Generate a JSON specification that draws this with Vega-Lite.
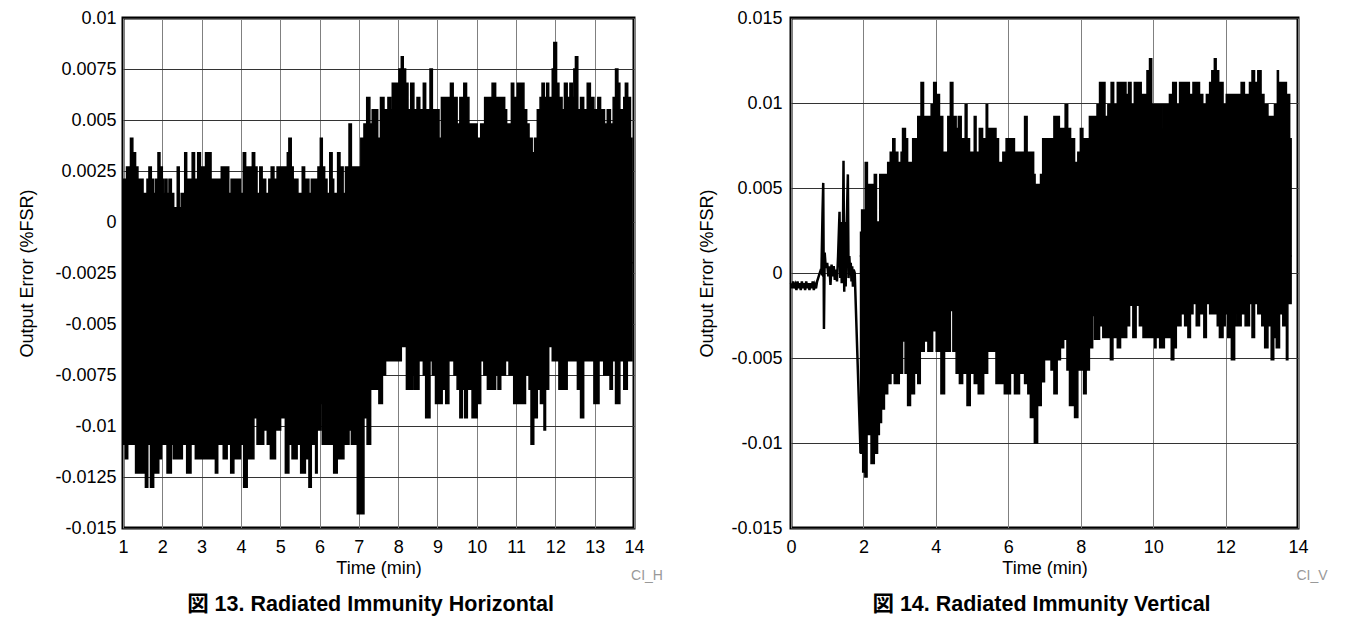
{
  "$schema": "https://vega.github.io/schema/vega-lite/v6.json",
  "background": "white",
  "padding": {"left": 17, "top": 7, "right": 0, "bottom": 0},
  "spacing": 32,
  "config": {
    "view": {"stroke": "black", "strokeWidth": 3},
    "font": "Liberation Sans",
    "axis": {"labelFont": "Liberation Sans", "labelFontSize": 18, "labelColor": "black", "titleFont": "Liberation Sans", "titleFontSize": 18, "titleFontWeight": "normal", "titleColor": "black", "ticks": false, "domain": false, "grid": true, "labelOverlap": false, "labelFlush": false},
    "axisX": {"gridColor": "#808080", "gridOpacity": 1, "gridWidth": 1},
    "axisY": {"gridColor": "#333333", "gridOpacity": 1, "gridWidth": 1}
  },
  "datasets": {
    "hUpper": [
      {"t":1.00,"v":0.0021},{"t":1.09,"v":0.0027},{"t":1.19,"v":0.0041},{"t":1.25,"v":0.0034},{"t":1.32,"v":0.0027},{"t":1.38,"v":0.0021},{"t":1.51,"v":0.0014},{"t":1.61,"v":0.0021},{"t":1.66,"v":0.0027},{"t":1.72,"v":0.0021},{"t":1.78,"v":0.0014},{"t":1.83,"v":0.0021},{"t":1.89,"v":0.0034},{"t":1.94,"v":0.0027},{"t":2.00,"v":0.0021},{"t":2.04,"v":0.0014},{"t":2.08,"v":0.0021},{"t":2.12,"v":0.0014},{"t":2.17,"v":0.0021},{"t":2.23,"v":0.0014},{"t":2.29,"v":0.0007},{"t":2.38,"v":0.0027},{"t":2.43,"v":0.0007},{"t":2.48,"v":0.0014},{"t":2.57,"v":0.0034},{"t":2.62,"v":0.0021},{"t":2.76,"v":0.0034},{"t":2.82,"v":0.0021},{"t":2.90,"v":0.0034},{"t":2.97,"v":0.0027},{"t":3.10,"v":0.0034},{"t":3.24,"v":0.0021},{"t":3.50,"v":0.0027},{"t":3.69,"v":0.0014},{"t":3.75,"v":0.0021},{"t":3.99,"v":0.0014},{"t":4.06,"v":0.0034},{"t":4.12,"v":0.0027},{"t":4.29,"v":0.0034},{"t":4.35,"v":0.0027},{"t":4.41,"v":0.0014},{"t":4.48,"v":0.0027},{"t":4.54,"v":0.0021},{"t":4.63,"v":0.0014},{"t":4.71,"v":0.0021},{"t":4.77,"v":0.0027},{"t":4.84,"v":0.0021},{"t":4.92,"v":0.0027},{"t":5.18,"v":0.0034},{"t":5.22,"v":0.0041},{"t":5.28,"v":0.0027},{"t":5.33,"v":0.0021},{"t":5.45,"v":0.0014},{"t":5.56,"v":0.0027},{"t":5.62,"v":0.0021},{"t":5.73,"v":0.0014},{"t":5.79,"v":0.0021},{"t":5.96,"v":0.0027},{"t":6.02,"v":0.0041},{"t":6.07,"v":0.0027},{"t":6.13,"v":0.0021},{"t":6.19,"v":0.0014},{"t":6.26,"v":0.0034},{"t":6.32,"v":0.0021},{"t":6.36,"v":0.0014},{"t":6.46,"v":0.0034},{"t":6.52,"v":0.0027},{"t":6.60,"v":0.0014},{"t":6.66,"v":0.0027},{"t":6.75,"v":0.0048},{"t":6.81,"v":0.0027},{"t":7.05,"v":0.0041},{"t":7.13,"v":0.0048},{"t":7.20,"v":0.0061},{"t":7.28,"v":0.0048},{"t":7.34,"v":0.0055},{"t":7.48,"v":0.0041},{"t":7.55,"v":0.0061},{"t":7.64,"v":0.0055},{"t":7.74,"v":0.0061},{"t":7.81,"v":0.0055},{"t":7.85,"v":0.0068},{"t":8.02,"v":0.0075},{"t":8.08,"v":0.0081},{"t":8.13,"v":0.0075},{"t":8.19,"v":0.0068},{"t":8.25,"v":0.0055},{"t":8.32,"v":0.0068},{"t":8.40,"v":0.0055},{"t":8.48,"v":0.0061},{"t":8.55,"v":0.0055},{"t":8.64,"v":0.0068},{"t":8.70,"v":0.0055},{"t":8.81,"v":0.0075},{"t":8.87,"v":0.0055},{"t":9.04,"v":0.0041},{"t":9.10,"v":0.0061},{"t":9.33,"v":0.0068},{"t":9.40,"v":0.0061},{"t":9.50,"v":0.0048},{"t":9.57,"v":0.0061},{"t":9.67,"v":0.0068},{"t":9.74,"v":0.0061},{"t":9.80,"v":0.0048},{"t":10.01,"v":0.0041},{"t":10.10,"v":0.0048},{"t":10.20,"v":0.0061},{"t":10.39,"v":0.0068},{"t":10.48,"v":0.0061},{"t":10.71,"v":0.0055},{"t":10.76,"v":0.0048},{"t":10.88,"v":0.0068},{"t":10.94,"v":0.0061},{"t":11.03,"v":0.0068},{"t":11.20,"v":0.0055},{"t":11.27,"v":0.0048},{"t":11.33,"v":0.0041},{"t":11.41,"v":0.0034},{"t":11.47,"v":0.0041},{"t":11.54,"v":0.0055},{"t":11.61,"v":0.0061},{"t":11.66,"v":0.0068},{"t":11.72,"v":0.0061},{"t":11.78,"v":0.0068},{"t":11.83,"v":0.0061},{"t":11.92,"v":0.0075},{"t":11.96,"v":0.0088},{"t":12.03,"v":0.0068},{"t":12.09,"v":0.0061},{"t":12.17,"v":0.0055},{"t":12.23,"v":0.0068},{"t":12.30,"v":0.0061},{"t":12.37,"v":0.0068},{"t":12.43,"v":0.0061},{"t":12.47,"v":0.0075},{"t":12.51,"v":0.0081},{"t":12.57,"v":0.0055},{"t":12.64,"v":0.0061},{"t":12.72,"v":0.0055},{"t":12.81,"v":0.0068},{"t":12.89,"v":0.0061},{"t":12.98,"v":0.0055},{"t":13.08,"v":0.0061},{"t":13.15,"v":0.0055},{"t":13.25,"v":0.0048},{"t":13.32,"v":0.0055},{"t":13.40,"v":0.0048},{"t":13.47,"v":0.0061},{"t":13.53,"v":0.0075},{"t":13.59,"v":0.0068},{"t":13.64,"v":0.0055},{"t":13.74,"v":0.0061},{"t":13.78,"v":0.0068},{"t":13.84,"v":0.0061},{"t":13.91,"v":0.0041},{"t":13.95,"v":0.0041}
    ],
    "hLower": [
      {"t":1.00,"v":-0.0109},{"t":1.06,"v":-0.0116},{"t":1.12,"v":-0.0109},{"t":1.32,"v":-0.0123},{"t":1.57,"v":-0.013},{"t":1.63,"v":-0.0109},{"t":1.70,"v":-0.013},{"t":1.78,"v":-0.0123},{"t":1.91,"v":-0.0116},{"t":1.98,"v":-0.0109},{"t":2.12,"v":-0.0123},{"t":2.23,"v":-0.0109},{"t":2.28,"v":-0.0116},{"t":2.51,"v":-0.0109},{"t":2.62,"v":-0.0123},{"t":2.73,"v":-0.0109},{"t":2.84,"v":-0.0116},{"t":3.35,"v":-0.0123},{"t":3.41,"v":-0.0109},{"t":3.55,"v":-0.0116},{"t":3.65,"v":-0.0109},{"t":3.74,"v":-0.0123},{"t":3.82,"v":-0.0116},{"t":3.99,"v":-0.0109},{"t":4.07,"v":-0.013},{"t":4.16,"v":-0.0116},{"t":4.33,"v":-0.0096},{"t":4.41,"v":-0.0109},{"t":4.58,"v":-0.0102},{"t":4.67,"v":-0.0109},{"t":4.75,"v":-0.0116},{"t":4.88,"v":-0.0102},{"t":5.01,"v":-0.0096},{"t":5.13,"v":-0.0123},{"t":5.22,"v":-0.0109},{"t":5.30,"v":-0.0116},{"t":5.43,"v":-0.0109},{"t":5.52,"v":-0.0123},{"t":5.64,"v":-0.0116},{"t":5.73,"v":-0.013},{"t":5.79,"v":-0.0109},{"t":5.90,"v":-0.0123},{"t":5.94,"v":-0.0102},{"t":6.03,"v":-0.0089},{"t":6.07,"v":-0.0109},{"t":6.36,"v":-0.0123},{"t":6.45,"v":-0.0116},{"t":6.62,"v":-0.0109},{"t":6.75,"v":-0.0102},{"t":6.81,"v":-0.0109},{"t":6.96,"v":-0.0143},{"t":7.13,"v":-0.0096},{"t":7.21,"v":-0.0109},{"t":7.30,"v":-0.0082},{"t":7.51,"v":-0.0089},{"t":7.60,"v":-0.0075},{"t":7.68,"v":-0.0068},{"t":8.08,"v":-0.0061},{"t":8.21,"v":-0.0082},{"t":8.36,"v":-0.0075},{"t":8.40,"v":-0.0082},{"t":8.53,"v":-0.0068},{"t":8.64,"v":-0.0075},{"t":8.70,"v":-0.0096},{"t":8.81,"v":-0.0068},{"t":8.87,"v":-0.0075},{"t":8.95,"v":-0.0089},{"t":9.12,"v":-0.0082},{"t":9.21,"v":-0.0089},{"t":9.29,"v":-0.0068},{"t":9.42,"v":-0.0075},{"t":9.50,"v":-0.0082},{"t":9.57,"v":-0.0096},{"t":9.63,"v":-0.0082},{"t":9.69,"v":-0.0096},{"t":9.76,"v":-0.0082},{"t":9.88,"v":-0.0096},{"t":10.01,"v":-0.0089},{"t":10.10,"v":-0.0068},{"t":10.18,"v":-0.0075},{"t":10.27,"v":-0.0082},{"t":10.48,"v":-0.0075},{"t":10.54,"v":-0.0082},{"t":10.61,"v":-0.0075},{"t":10.73,"v":-0.0068},{"t":10.82,"v":-0.0075},{"t":10.94,"v":-0.0089},{"t":11.24,"v":-0.0075},{"t":11.33,"v":-0.0082},{"t":11.38,"v":-0.0109},{"t":11.45,"v":-0.0096},{"t":11.54,"v":-0.0082},{"t":11.62,"v":-0.0089},{"t":11.71,"v":-0.0102},{"t":11.75,"v":-0.0082},{"t":11.83,"v":-0.0061},{"t":11.92,"v":-0.0068},{"t":12.09,"v":-0.0082},{"t":12.30,"v":-0.0068},{"t":12.56,"v":-0.0082},{"t":12.64,"v":-0.0096},{"t":12.72,"v":-0.0068},{"t":12.98,"v":-0.0089},{"t":13.11,"v":-0.0068},{"t":13.23,"v":-0.0075},{"t":13.39,"v":-0.0082},{"t":13.45,"v":-0.0068},{"t":13.53,"v":-0.0089},{"t":13.64,"v":-0.0068},{"t":13.74,"v":-0.0082},{"t":13.83,"v":-0.0068},{"t":13.95,"v":-0.0068}
    ],
    "vEarly": [
      {"t":0.00,"v":-0.0006},{"t":0.03,"v":-0.0009},{"t":0.06,"v":-0.0005},{"t":0.09,"v":-0.0009},{"t":0.12,"v":-0.0007},{"t":0.15,"v":-0.001},{"t":0.18,"v":-0.0005},{"t":0.21,"v":-0.0009},{"t":0.24,"v":-0.0006},{"t":0.27,"v":-0.001},{"t":0.30,"v":-0.0005},{"t":0.33,"v":-0.0009},{"t":0.36,"v":-0.0006},{"t":0.39,"v":-0.001},{"t":0.42,"v":-0.0005},{"t":0.45,"v":-0.0009},{"t":0.48,"v":-0.0006},{"t":0.51,"v":-0.001},{"t":0.54,"v":-0.0006},{"t":0.57,"v":-0.0009},{"t":0.60,"v":-0.0005},{"t":0.63,"v":-0.001},{"t":0.66,"v":-0.0007},{"t":0.69,"v":-0.0009},{"t":0.72,"v":-0.0005},{"t":0.75,"v":-0.0003},{"t":0.78,"v":-0.0001},{"t":0.81,"v":0.0001},{"t":0.84,"v":0.0},{"t":0.87,"v":0.0035},{"t":0.89,"v":0.0053},{"t":0.90,"v":0.001},{"t":0.91,"v":-0.0033},{"t":0.93,"v":0.0012},{"t":0.96,"v":0.0003},{"t":1.00,"v":0.0006},{"t":1.03,"v":-0.0002},{"t":1.06,"v":0.0004},{"t":1.09,"v":-0.0007},{"t":1.12,"v":0.0005},{"t":1.15,"v":-0.0002},{"t":1.18,"v":0.0004},{"t":1.21,"v":-0.0004},{"t":1.24,"v":0.0002},{"t":1.27,"v":-0.0005},{"t":1.30,"v":0.001},{"t":1.34,"v":0.0036},{"t":1.36,"v":-0.0003},{"t":1.38,"v":0.003},{"t":1.40,"v":-0.0006},{"t":1.43,"v":0.001},{"t":1.45,"v":0.0066},{"t":1.47,"v":-0.0011},{"t":1.49,"v":0.003},{"t":1.51,"v":-0.0008},{"t":1.54,"v":0.003},{"t":1.57,"v":0.0058},{"t":1.59,"v":-0.0003},{"t":1.61,"v":0.001},{"t":1.63,"v":0.0002},{"t":1.65,"v":0.0006},{"t":1.67,"v":-0.0005},{"t":1.69,"v":0.0004},{"t":1.71,"v":-0.0008},{"t":1.73,"v":0.0002},{"t":1.76,"v":0.0},{"t":1.92,"v":-0.0106}
    ],
    "vUpper": [
      {"t":1.92,"v":0.0024},{"t":1.95,"v":0.0037},{"t":2.05,"v":0.0065},{"t":2.11,"v":0.0052},{"t":2.30,"v":0.0058},{"t":2.36,"v":0.003},{"t":2.45,"v":0.0058},{"t":2.67,"v":0.0065},{"t":2.74,"v":0.0071},{"t":2.81,"v":0.0079},{"t":2.87,"v":0.0071},{"t":2.95,"v":0.0065},{"t":3.04,"v":0.0071},{"t":3.08,"v":0.0085},{"t":3.16,"v":0.0079},{"t":3.22,"v":0.0065},{"t":3.36,"v":0.0079},{"t":3.50,"v":0.0092},{"t":3.59,"v":0.0112},{"t":3.66,"v":0.0092},{"t":3.87,"v":0.0099},{"t":3.94,"v":0.0112},{"t":4.01,"v":0.0105},{"t":4.10,"v":0.0092},{"t":4.19,"v":0.0071},{"t":4.33,"v":0.0092},{"t":4.40,"v":0.0112},{"t":4.47,"v":0.0092},{"t":4.56,"v":0.0085},{"t":4.62,"v":0.0092},{"t":4.70,"v":0.0079},{"t":4.81,"v":0.0099},{"t":4.86,"v":0.0079},{"t":4.93,"v":0.0071},{"t":5.06,"v":0.0092},{"t":5.11,"v":0.0071},{"t":5.20,"v":0.0085},{"t":5.29,"v":0.0079},{"t":5.39,"v":0.0099},{"t":5.43,"v":0.0085},{"t":5.66,"v":0.0079},{"t":5.73,"v":0.0065},{"t":5.85,"v":0.0071},{"t":5.94,"v":0.0079},{"t":6.17,"v":0.0071},{"t":6.45,"v":0.0092},{"t":6.52,"v":0.0071},{"t":6.70,"v":0.0058},{"t":6.74,"v":0.0052},{"t":6.89,"v":0.0058},{"t":6.95,"v":0.0079},{"t":7.26,"v":0.0092},{"t":7.41,"v":0.0085},{"t":7.57,"v":0.0099},{"t":7.64,"v":0.0085},{"t":7.72,"v":0.0079},{"t":7.83,"v":0.0065},{"t":7.92,"v":0.0071},{"t":7.99,"v":0.0085},{"t":8.06,"v":0.0079},{"t":8.24,"v":0.0092},{"t":8.45,"v":0.0099},{"t":8.52,"v":0.0112},{"t":8.67,"v":0.0092},{"t":8.75,"v":0.0099},{"t":8.84,"v":0.0112},{"t":8.91,"v":0.0099},{"t":9.01,"v":0.0112},{"t":9.25,"v":0.0105},{"t":9.32,"v":0.0112},{"t":9.39,"v":0.0099},{"t":9.48,"v":0.0112},{"t":9.67,"v":0.0105},{"t":9.83,"v":0.0119},{"t":9.90,"v":0.0126},{"t":9.96,"v":0.0099},{"t":10.27,"v":0.0085},{"t":10.31,"v":0.0099},{"t":10.45,"v":0.0105},{"t":10.54,"v":0.0112},{"t":10.64,"v":0.0099},{"t":10.73,"v":0.0112},{"t":11.00,"v":0.0105},{"t":11.10,"v":0.0112},{"t":11.28,"v":0.0105},{"t":11.37,"v":0.0099},{"t":11.47,"v":0.0105},{"t":11.56,"v":0.0112},{"t":11.62,"v":0.0119},{"t":11.69,"v":0.0126},{"t":11.74,"v":0.0119},{"t":11.81,"v":0.0112},{"t":11.93,"v":0.0099},{"t":12.02,"v":0.0105},{"t":12.43,"v":0.0112},{"t":12.52,"v":0.0105},{"t":12.66,"v":0.0112},{"t":12.73,"v":0.0119},{"t":12.80,"v":0.0112},{"t":12.89,"v":0.0119},{"t":12.98,"v":0.0105},{"t":13.06,"v":0.0099},{"t":13.17,"v":0.0092},{"t":13.35,"v":0.0099},{"t":13.43,"v":0.0119},{"t":13.46,"v":0.0112},{"t":13.68,"v":0.0105},{"t":13.77,"v":0.0079},{"t":13.81,"v":0.0079}
    ],
    "vLower": [
      {"t":1.92,"v":-0.0106},{"t":1.98,"v":-0.0117},{"t":2.04,"v":-0.012},{"t":2.10,"v":-0.0095},{"t":2.21,"v":-0.0112},{"t":2.30,"v":-0.0106},{"t":2.39,"v":-0.0095},{"t":2.44,"v":-0.0088},{"t":2.50,"v":-0.008},{"t":2.58,"v":-0.0071},{"t":2.67,"v":-0.0065},{"t":2.76,"v":-0.0059},{"t":2.85,"v":-0.0065},{"t":2.99,"v":-0.0059},{"t":3.08,"v":-0.004},{"t":3.15,"v":-0.0059},{"t":3.22,"v":-0.0078},{"t":3.30,"v":-0.0071},{"t":3.41,"v":-0.0059},{"t":3.50,"v":-0.0065},{"t":3.57,"v":-0.0046},{"t":3.68,"v":-0.004},{"t":3.78,"v":-0.0046},{"t":3.91,"v":-0.0034},{"t":4.01,"v":-0.0046},{"t":4.14,"v":-0.0071},{"t":4.24,"v":-0.0046},{"t":4.40,"v":-0.0022},{"t":4.47,"v":-0.0046},{"t":4.56,"v":-0.0059},{"t":4.65,"v":-0.0065},{"t":4.74,"v":-0.0059},{"t":4.86,"v":-0.0078},{"t":4.95,"v":-0.0059},{"t":5.06,"v":-0.0065},{"t":5.17,"v":-0.0071},{"t":5.32,"v":-0.0059},{"t":5.43,"v":-0.0046},{"t":5.66,"v":-0.0065},{"t":5.89,"v":-0.0071},{"t":6.06,"v":-0.0059},{"t":6.17,"v":-0.0071},{"t":6.31,"v":-0.0059},{"t":6.45,"v":-0.0065},{"t":6.54,"v":-0.0071},{"t":6.61,"v":-0.0085},{"t":6.72,"v":-0.01},{"t":6.81,"v":-0.0078},{"t":6.91,"v":-0.0064},{"t":7.00,"v":-0.0051},{"t":7.18,"v":-0.0057},{"t":7.26,"v":-0.0071},{"t":7.35,"v":-0.0051},{"t":7.44,"v":-0.0044},{"t":7.53,"v":-0.0039},{"t":7.62,"v":-0.0057},{"t":7.69,"v":-0.0078},{"t":7.83,"v":-0.0085},{"t":7.92,"v":-0.0057},{"t":8.08,"v":-0.0071},{"t":8.15,"v":-0.0057},{"t":8.24,"v":-0.0044},{"t":8.33,"v":-0.0025},{"t":8.38,"v":-0.0039},{"t":8.52,"v":-0.0031},{"t":8.61,"v":-0.0038},{"t":8.82,"v":-0.0051},{"t":8.89,"v":-0.0038},{"t":9.01,"v":-0.0044},{"t":9.10,"v":-0.0038},{"t":9.27,"v":-0.0031},{"t":9.35,"v":-0.0019},{"t":9.44,"v":-0.0038},{"t":9.53,"v":-0.0019},{"t":9.62,"v":-0.0031},{"t":9.72,"v":-0.0038},{"t":10.04,"v":-0.0044},{"t":10.08,"v":-0.0038},{"t":10.18,"v":-0.0044},{"t":10.31,"v":-0.0038},{"t":10.50,"v":-0.0051},{"t":10.57,"v":-0.0044},{"t":10.64,"v":-0.0031},{"t":10.77,"v":-0.0024},{"t":10.87,"v":-0.0031},{"t":10.96,"v":-0.0038},{"t":11.03,"v":-0.0024},{"t":11.10,"v":-0.0018},{"t":11.19,"v":-0.0031},{"t":11.28,"v":-0.0024},{"t":11.40,"v":-0.0038},{"t":11.47,"v":-0.0018},{"t":11.56,"v":-0.0024},{"t":11.77,"v":-0.0031},{"t":11.83,"v":-0.0038},{"t":11.93,"v":-0.0031},{"t":11.99,"v":-0.0024},{"t":12.06,"v":-0.0038},{"t":12.16,"v":-0.0051},{"t":12.25,"v":-0.0024},{"t":12.29,"v":-0.0031},{"t":12.43,"v":-0.0024},{"t":12.54,"v":-0.0031},{"t":12.66,"v":-0.0018},{"t":12.73,"v":-0.0038},{"t":12.80,"v":-0.0018},{"t":12.89,"v":-0.0024},{"t":13.00,"v":-0.0031},{"t":13.08,"v":-0.0044},{"t":13.17,"v":-0.0031},{"t":13.26,"v":-0.0051},{"t":13.33,"v":-0.0038},{"t":13.40,"v":-0.0044},{"t":13.49,"v":-0.0024},{"t":13.58,"v":-0.0031},{"t":13.68,"v":-0.0051},{"t":13.72,"v":-0.0018},{"t":13.81,"v":-0.0018}
    ]
  },
  "hconcat": [
    {
      "width": 511,
      "height": 510,
      "title": {"text": "図 13. Radiated Immunity Horizontal", "orient": "bottom", "anchor": "middle", "frame": "group", "font": "Liberation Sans, Noto Sans CJK JP, sans-serif", "fontSize": 21.5, "fontWeight": "bold", "color": "black", "offset": 11, "dx": -8},
      "layer": [
        {"data": {"name": "hUpper"}, "mark": {"type": "area", "interpolate": "step-after", "color": "black", "stroke": "black", "strokeWidth": 1.5},
         "encoding": {
          "x": {"field": "t", "type": "quantitative", "scale": {"domain": [1, 14], "nice": false, "zero": false}, "axis": {"values": [1,2,3,4,5,6,7,8,9,10,11,12,13,14], "title": "Time (min)", "labelPadding": 10, "titlePadding": 3, "labelOverlap": false, "labelFlush": false}},
          "y": {"field": "v", "type": "quantitative", "scale": {"domain": [-0.015, 0.01], "nice": false, "zero": false}, "axis": {"values": [-0.015,-0.0125,-0.01,-0.0075,-0.005,-0.0025,0,0.0025,0.005,0.0075,0.01], "labelExpr": "'' + datum.value", "title": "Output Error (%FSR)", "labelPadding": 7, "titlePadding": 18, "labelOverlap": false, "labelFlush": false}},
          "y2": {"datum": -0.002}}},
        {"data": {"name": "hLower"}, "mark": {"type": "area", "interpolate": "step-after", "color": "black", "stroke": "black", "strokeWidth": 1.5},
         "encoding": {
          "x": {"field": "t", "type": "quantitative", "scale": {"domain": [1, 14], "nice": false, "zero": false}, "axis": {"values": [1,2,3,4,5,6,7,8,9,10,11,12,13,14], "title": "Time (min)", "labelPadding": 10, "titlePadding": 3, "labelOverlap": false, "labelFlush": false}},
          "y": {"field": "v", "type": "quantitative", "scale": {"domain": [-0.015, 0.01], "nice": false, "zero": false}, "axis": {"values": [-0.015,-0.0125,-0.01,-0.0075,-0.005,-0.0025,0,0.0025,0.005,0.0075,0.01], "labelExpr": "'' + datum.value", "title": "Output Error (%FSR)", "labelPadding": 7, "titlePadding": 18, "labelOverlap": false, "labelFlush": false}},
          "y2": {"datum": -0.002}}},
        {"data": {"values": [{"label": "CI_H"}]}, "mark": {"type": "text", "font": "Liberation Sans", "fontSize": 14, "fill": "#999999", "align": "center", "baseline": "middle", "dx": 13, "dy": 48},
         "encoding": {
          "x": {"datum": 14, "type": "quantitative", "scale": {"domain": [1, 14], "nice": false, "zero": false}, "axis": {"values": [1,2,3,4,5,6,7,8,9,10,11,12,13,14], "title": "Time (min)", "labelPadding": 10, "titlePadding": 3, "labelOverlap": false, "labelFlush": false}},
          "y": {"datum": -0.015, "type": "quantitative", "scale": {"domain": [-0.015, 0.01], "nice": false, "zero": false}, "axis": {"values": [-0.015,-0.0125,-0.01,-0.0075,-0.005,-0.0025,0,0.0025,0.005,0.0075,0.01], "labelExpr": "'' + datum.value", "title": "Output Error (%FSR)", "labelPadding": 7, "titlePadding": 18, "labelOverlap": false, "labelFlush": false}},
          "text": {"field": "label", "type": "nominal"}}}
      ]
    },
    {
      "width": 507,
      "height": 510,
      "title": {"text": "図 14. Radiated Immunity Vertical", "orient": "bottom", "anchor": "middle", "frame": "group", "font": "Liberation Sans, Noto Sans CJK JP, sans-serif", "fontSize": 21.5, "fontWeight": "bold", "color": "black", "offset": 11, "dx": -3},
      "layer": [
        {"data": {"name": "vEarly"}, "mark": {"type": "line", "color": "black", "strokeWidth": 2.5},
         "encoding": {
          "x": {"field": "t", "type": "quantitative", "scale": {"domain": [0, 14], "nice": false}, "axis": {"values": [0,2,4,6,8,10,12,14], "title": "Time (min)", "labelPadding": 10, "titlePadding": 3, "labelOverlap": false, "labelFlush": false}},
          "y": {"field": "v", "type": "quantitative", "scale": {"domain": [-0.015, 0.015], "nice": false}, "axis": {"values": [-0.015,-0.01,-0.005,0,0.005,0.01,0.015], "labelExpr": "'' + datum.value", "title": "Output Error (%FSR)", "labelPadding": 9, "titlePadding": 14, "labelOverlap": false, "labelFlush": false}}}},
        {"data": {"name": "vUpper"}, "mark": {"type": "area", "interpolate": "step-after", "color": "black", "stroke": "black", "strokeWidth": 1.5},
         "encoding": {
          "x": {"field": "t", "type": "quantitative", "scale": {"domain": [0, 14], "nice": false}, "axis": {"values": [0,2,4,6,8,10,12,14], "title": "Time (min)", "labelPadding": 10, "titlePadding": 3, "labelOverlap": false, "labelFlush": false}},
          "y": {"field": "v", "type": "quantitative", "scale": {"domain": [-0.015, 0.015], "nice": false}, "axis": {"values": [-0.015,-0.01,-0.005,0,0.005,0.01,0.015], "labelExpr": "'' + datum.value", "title": "Output Error (%FSR)", "labelPadding": 9, "titlePadding": 14, "labelOverlap": false, "labelFlush": false}},
          "y2": {"datum": 0.001}}},
        {"data": {"name": "vLower"}, "mark": {"type": "area", "interpolate": "step-after", "color": "black", "stroke": "black", "strokeWidth": 1.5},
         "encoding": {
          "x": {"field": "t", "type": "quantitative", "scale": {"domain": [0, 14], "nice": false}, "axis": {"values": [0,2,4,6,8,10,12,14], "title": "Time (min)", "labelPadding": 10, "titlePadding": 3, "labelOverlap": false, "labelFlush": false}},
          "y": {"field": "v", "type": "quantitative", "scale": {"domain": [-0.015, 0.015], "nice": false}, "axis": {"values": [-0.015,-0.01,-0.005,0,0.005,0.01,0.015], "labelExpr": "'' + datum.value", "title": "Output Error (%FSR)", "labelPadding": 9, "titlePadding": 14, "labelOverlap": false, "labelFlush": false}},
          "y2": {"datum": 0.001}}},
        {"data": {"values": [{"label": "CI_V"}]}, "mark": {"type": "text", "font": "Liberation Sans", "fontSize": 14, "fill": "#999999", "align": "center", "baseline": "middle", "dx": 14, "dy": 48},
         "encoding": {
          "x": {"datum": 14, "type": "quantitative", "scale": {"domain": [0, 14], "nice": false}, "axis": {"values": [0,2,4,6,8,10,12,14], "title": "Time (min)", "labelPadding": 10, "titlePadding": 3, "labelOverlap": false, "labelFlush": false}},
          "y": {"datum": -0.015, "type": "quantitative", "scale": {"domain": [-0.015, 0.015], "nice": false}, "axis": {"values": [-0.015,-0.01,-0.005,0,0.005,0.01,0.015], "labelExpr": "'' + datum.value", "title": "Output Error (%FSR)", "labelPadding": 9, "titlePadding": 14, "labelOverlap": false, "labelFlush": false}},
          "text": {"field": "label", "type": "nominal"}}}
      ]
    }
  ]
}
